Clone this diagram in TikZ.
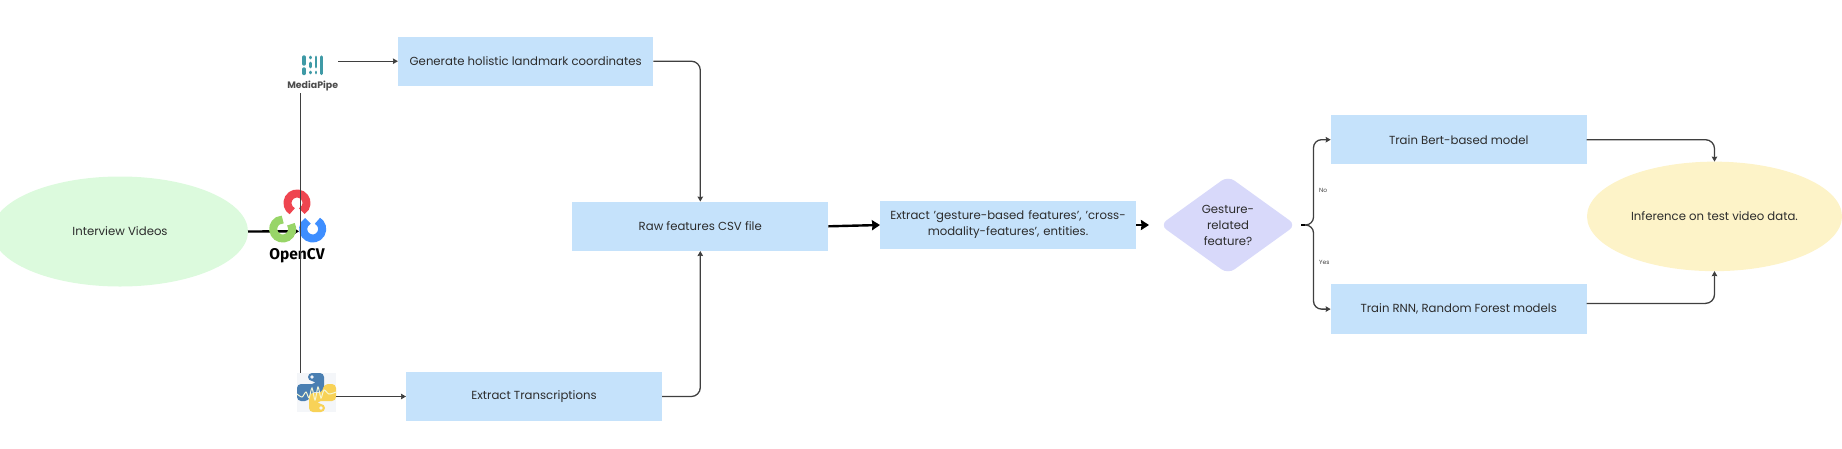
\documentclass[tikz,border=0pt]{standalone}
\usepackage{fontspec}
\setmainfont{Poppins}
\newfontfamily\cvfont{Fira Sans}
\usetikzlibrary{shapes.geometric,arrows.meta}
\definecolor{boxc}{HTML}{C5E2FB}
\definecolor{greenc}{HTML}{DCFADD}
\definecolor{yellowc}{HTML}{FDF3C8}
\definecolor{purplec}{HTML}{D8D9FA}
\definecolor{inkc}{HTML}{2C2C2C}
\definecolor{linec}{HTML}{3F3F3F}
\definecolor{tealc}{HTML}{3F9AA6}
\definecolor{pbg}{HTML}{F4F6F9}
\definecolor{pyblue}{HTML}{4A7FB2}
\definecolor{pyyellow}{HTML}{F8D257}
\definecolor{cvred}{HTML}{EF4550}
\definecolor{cvgreen}{HTML}{98D568}
\definecolor{cvblue}{HTML}{3E8EFF}
\tikzset{
  x=1pt,y=-1pt,
  txt/.style={text=inkc,font=\fontsize{11.7}{16}\selectfont,align=center,inner sep=0pt,outer sep=0pt},
  boxn/.style={txt,fill=boxc,rectangle,minimum width=#1},
  boxn/.default=256,
  oval/.style={txt,ellipse},
  thin link/.style={draw=linec,line width=1.3pt,-{Stealth[length=5pt,width=5.5pt,inset=0.5pt]}},
  thick link/.style={draw=black,line width=2.4pt,-{Stealth[length=8pt,width=10pt,inset=0.5pt]}},
  curved link/.style={thin link,rounded corners=9pt},
  ring/.style={line width=8pt,line cap=butt},
  lbl/.style={text=linec,font=\fontsize{6}{7}\selectfont,inner sep=0pt},
  bar/.style={line width=3.4pt,draw=tealc,line cap=round},
}
\begin{document}
\begin{tikzpicture}
\useasboundingbox (0,0) rectangle (1842,448);
\clip (0,0) rectangle (1842,448);
% ovals and boxes
\node[oval,fill=greenc,minimum width=256,minimum height=110] (video) at (120,231.5) {Interview Videos};
\node[boxn=255.5,minimum height=49] (gen) at (525.7,61.2) {Generate holistic landmark coordinates};
\node[boxn=256,minimum height=49] (trans) at (534,396.5) {Extract Transcriptions};
\node[boxn=256,minimum height=49.4] (raw) at (700.3,226.3) {Raw features CSV file};
\node[boxn=256,minimum height=48.6,text width=250] (ext) at (1008,225) {Extract 'gesture-based features', 'cross-\\modality-features', entities.};
\node[txt,diamond,fill=purplec,rounded corners=8pt,aspect=1.39,minimum width=136,minimum height=98] (dia) at (1228,225) {Gesture-\\related\\feature?};
\node[boxn=256,minimum height=49.4] (bert) at (1458.7,139.7) {Train Bert-based model};
\node[boxn=256,minimum height=49.6] (rnn) at (1458.7,309.1) {Train RNN, Random Forest models};
\node[oval,fill=yellowc,minimum width=255,minimum height=109.5] (inf) at (1714.5,216.4) {Inference on test video data.};
% logo panels
\node[fill=white,minimum width=54,minimum height=38,inner sep=0pt] (mp) at (311,72) {};
\node[fill=pbg,minimum width=39,minimum height=39,inner sep=0pt] (py) at (316.5,392.5) {};
% connector under the OpenCV logo
\coordinate (cvtip) at (299,231.3);
\draw[thick link] (video.east) -- (cvtip);
% OpenCV logo
\draw[ring,draw=cvred] (297,203)+(120:9.5) arc[start angle=120,end angle=420,radius=9.5];
\draw[ring,draw=cvgreen] (282.7,229)+(-30:9.5) arc[start angle=-30,end angle=270,radius=9.5];
\draw[ring,draw=cvblue] (312.7,229)+(-60:9.5) arc[start angle=-60,end angle=240,radius=9.5];
\node[inner sep=0pt,text=black,font=\cvfont\bfseries\fontsize{15.5}{20}\selectfont] (cvtext) at (297,256) {OpenCV};
% MediaPipe logo
\draw[bar] (304,57) -- (304,64);
\draw[bar] (304,69) -- (304,73.5);
\draw[bar,line width=2.8pt] (310.5,57) -- (310.5,58);
\draw[bar,line width=2.8pt] (310.5,63) -- (310.5,67);
\draw[bar,line width=2.8pt] (310.5,72) -- (310.5,73);
\draw[bar,line width=2.8pt] (316,57) -- (316,67);
\draw[bar,line width=2.8pt] (316,72) -- (316,73);
\draw[bar] (321.5,57) -- (321.5,73.5);
\node[inner sep=0pt,text=inkc!85!white,font=\fontsize{9.4}{11}\selectfont\bfseries] (mpt) at (312.7,86) {MediaPipe};
% Python logo
\fill[pyblue,rounded corners=4pt] (308,373)--(324,373)--(324,392)--(311,392)--(309,401)--(297,401)--(297,384)--(316,384)--(316,381)--(308,381)--cycle;
\fill[pyyellow,rounded corners=4pt] (325,412)--(309,412)--(309,393)--(322,393)--(324,384)--(336,384)--(336,401)--(317,401)--(317,404)--(325,404)--cycle;
\fill[pbg] (312,377) circle (1.8);
\fill[pbg] (321,408) circle (1.8);
\draw[pbg!85!yellow,line width=1pt] plot[smooth] coordinates {(297,394)(302,397)(306,392)(309,398)(312,388)(315,400)(318,387)(321,398)(324,390)(329,394)(336,392)};
% connectors
\coordinate (mptop) at (300.5,93);
\coordinate (pytop) at (300.5,373);
\draw[draw=linec,line width=1.3pt] (mptop) -- (pytop);
\draw[thin link] (mp.east |- gen.west) -- (gen.west);
\draw[thin link] (py.east |- trans.west) -- (trans.west);
\draw[curved link] (gen.east) -| (raw.north);
\draw[curved link] (trans.east) -| (raw.south);
\draw[thick link] (raw.east) -- (ext.west);
\draw[thick link,shorten >=11pt] (ext.east) -- (dia.west);
\coordinate (fork) at (1313.5,225);
\coordinate (forkstub) at (1305,225);
\draw[curved link,shorten <=5pt,rounded corners=8pt] (dia.east) -- (fork) |- (bert.west);
\draw[curved link,shorten <=5pt,rounded corners=8pt] (dia.east) -- (fork) |- (rnn.west);
\draw[draw=black,line width=1.6pt,shorten <=5pt] (dia.east) -- (forkstub);
\coordinate (rnnout) at (1586.7,303.4);
\draw[curved link] (bert.east) -| (inf.north);
\draw[curved link] (rnnout) -| (inf.south);
\node[lbl,anchor=west] (no) at (1319,190) {No};
\node[lbl,anchor=west] (yes) at (1319,262.7) {Yes};
\end{tikzpicture}
\end{document}
